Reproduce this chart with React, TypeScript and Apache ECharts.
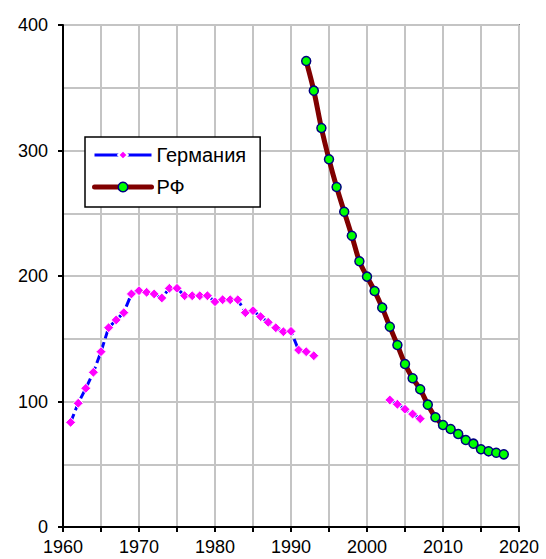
import React, { useEffect, useRef } from "react";
import * as echarts from "echarts";

const germanyYears = [
  1961, 1962, 1963, 1964, 1965, 1966, 1967, 1968, 1969, 1970,
  1971, 1972, 1973, 1974, 1975, 1976, 1977, 1978, 1979, 1980,
  1981, 1982, 1983, 1984, 1985, 1986, 1987, 1988, 1989, 1990,
  1991, 1992, 1993, 1998, 2003, 2004, 2005, 2006, 2007,
];
const germanyValues = [
  83.4, 98.6, 110.5, 123.3, 139.7, 158.8, 165, 170.8, 185.7, 188.3,
  187, 185.7, 182.5, 190.2, 190.2, 184.3, 184.3, 184.3, 184.3, 179.5,
  181.1, 181.1, 181.1, 170.8, 172.4, 167.6, 163.1, 158.8, 155.6, 155.9,
  141, 139.7, 136.5, null, 101.2, 97.8, 93.8, 90, 86.3,
];

const rfYears = [
  1992, 1993, 1994, 1995, 1996, 1997, 1998, 1999, 2000, 2001,
  2002, 2003, 2004, 2005, 2006, 2007, 2008, 2009, 2010, 2011,
  2012, 2013, 2014, 2015, 2016, 2017, 2018,
];
const rfValues = [
  371.3, 347.7, 317.9, 293, 270.9, 251.2, 232.1, 211.7, 199.5, 188,
  174.8, 159.6, 145, 129.9, 118.5, 109.7, 97.5, 87.4, 81.3, 78.1,
  74.1, 69.3, 66.4, 61.9, 60.3, 59.2, 57.9,
];

const seriesNames = ["Германия", "РФ"];

const FONT = "'Liberation Sans', Arial, sans-serif";

export default function App() {
  const ref = useRef<HTMLDivElement>(null);

  useEffect(() => {
    if (!ref.current) return;
    const chart = echarts.init(ref.current, null, { renderer: "svg" });
    const germanyData = germanyYears.map((y, i) => [y, germanyValues[i] === null ? "-" : germanyValues[i]]);
    const rfData = rfYears.map((y, i) => [y, rfValues[i]]);

    chart.setOption({
      animation: false,
      backgroundColor: "#ffffff",
      grid: {
        left: 63,
        top: 25,
        right: 27,
        bottom: 32,
        show: true,
        borderColor: "#808080",
        borderWidth: 2,
        backgroundColor: "transparent",
      },
      legend: {
        orient: "vertical",
        left: 85,
        top: 137,
        padding: [8, 14, 10, 7],
        itemWidth: 57,
        itemHeight: 12,
        itemGap: 12,
        borderColor: "#000000",
        borderWidth: 1.5,
        backgroundColor: "#ffffff",
        textStyle: {
          fontFamily: FONT,
          fontSize: 20,
          color: "#000000",
          lineHeight: 20,
        },
        data: [
          {
            name: seriesNames[0],
            lineStyle: { color: "#0000ff", width: 3, type: "solid" },
            itemStyle: { color: "#ff00ff", borderColor: "#ffffff", borderWidth: 2 },
          },
          {
            name: seriesNames[1],
            lineStyle: { color: "#800000", width: 5, cap: "round" },
            itemStyle: { color: "#00ff00", borderColor: "#000080", borderWidth: 1.5 },
          },
        ],
      },
      xAxis: {
        type: "value",
        min: 1960,
        max: 2020,
        interval: 10,
        axisLine: { show: true, onZero: false, lineStyle: { color: "#000000", width: 2 } },
        axisTick: { show: true, length: 5, lineStyle: { color: "#000000", width: 2 } },
        minorTick: { show: true, splitNumber: 2, length: 5, lineStyle: { color: "#000000", width: 2 } },
        splitLine: { show: true, lineStyle: { color: "#c4c4c4", width: 2 } },
        minorSplitLine: { show: true, lineStyle: { color: "#c4c4c4", width: 2 } },
        axisLabel: {
          fontFamily: FONT,
          fontSize: 18,
          color: "#000000",
          margin: 11,
          formatter: (v: number) => String(v),
        },
      },
      yAxis: {
        type: "value",
        min: 0,
        max: 400,
        interval: 100,
        axisLine: { show: true, lineStyle: { color: "#000000", width: 2 } },
        axisTick: { show: true, length: 5, lineStyle: { color: "#000000", width: 2 } },
        minorTick: { show: false, splitNumber: 2 },
        splitLine: { show: true, lineStyle: { color: "#c4c4c4", width: 2 } },
        minorSplitLine: { show: true, lineStyle: { color: "#c4c4c4", width: 2 } },
        axisLabel: {
          fontFamily: FONT,
          fontSize: 18,
          color: "#000000",
          margin: 15,
        },
      },
      series: [
        {
          name: seriesNames[0],
          type: "line",
          data: germanyData,
          connectNulls: false,
          symbol: "diamond",
          symbolSize: 10,
          lineStyle: { color: "#0000ff", width: 3, type: [9, 4] },
          itemStyle: { color: "#ff00ff", borderColor: "#ffffff", borderWidth: 1 },
          z: 3,
        },
        {
          name: seriesNames[1],
          type: "line",
          data: rfData,
          smooth: 0.3,
          symbol: "circle",
          symbolSize: 9,
          lineStyle: { color: "#800000", width: 5 },
          itemStyle: { color: "#00ff00", borderColor: "#000080", borderWidth: 1.5 },
          z: 4,
        },
      ],
    });
    return () => chart.dispose();
  }, []);

  return (
    <div
      ref={ref}
      style={{ position: "absolute", left: 0, top: 0, width: 546, height: 559 }}
    />
  );
}
